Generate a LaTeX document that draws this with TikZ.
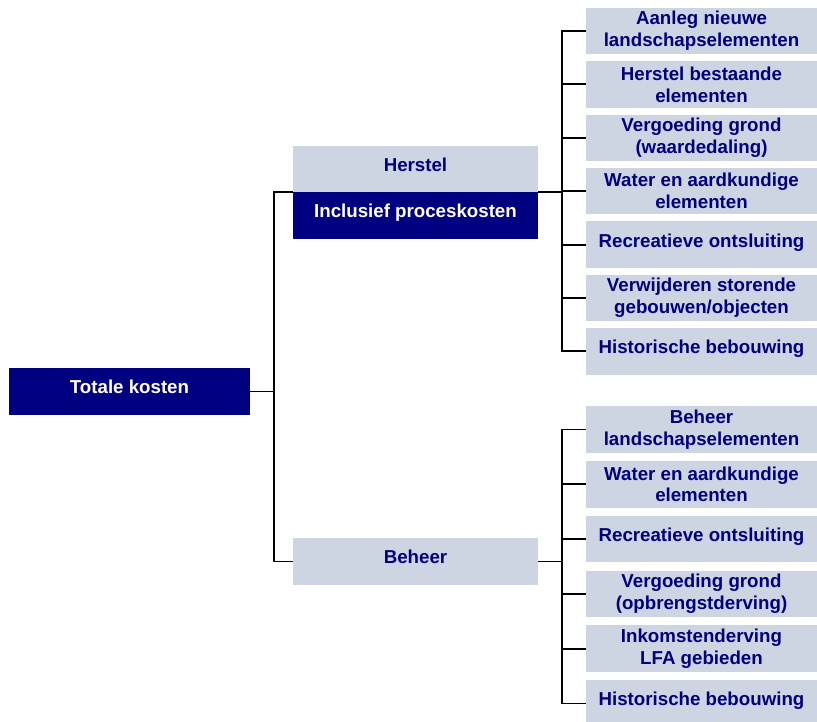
\documentclass[tikz,border=0pt]{standalone}
\usepackage{fontspec}
\setmainfont{Liberation Sans}
\usetikzlibrary{backgrounds}
\definecolor{donkerblauw}{RGB}{0,0,128}
\definecolor{lichtblauw}{RGB}{204,213,225}
\tikzset{
	doos/.style={inner sep=0pt, align=center, font=\bfseries\fontsize{13.3}{15.6}\selectfont},
	donker/.style={doos, fill=donkerblauw, text=white},
	licht/.style={doos, fill=lichtblauw, text=donkerblauw},
	eenregel/.style={text height=9.5pt, text depth=6pt},
	midden/.style={minimum width=6.125cm, minimum height=1.16cm},
	rechts/.style={licht, minimum width=5.775cm, minimum height=1.1625cm},
	lijn/.style={line width=1.4pt, black}
}

\begin{document}
\begin{tikzpicture}[x=0.025cm, y=-0.025cm]
	\useasboundingbox (0,0) rectangle (817,722);
	\node [donker, eenregel, minimum width=6.025cm, minimum height=1.175cm] (tot) at (129.5,391.5) {Totale kosten};
	\node [licht, eenregel, midden] (herstel) at (415.5,169) {Herstel};
	\node [donker, eenregel, midden] (incl) at (415.5,215.5) {Inclusief proceskosten};
	\node [licht, eenregel, midden] (beheer) at (415.5,561.5) {Beheer};

	% herstel
	\node [rechts] (a1) at (701.5,31) {Aanleg nieuwe\\landschapselementen};
	\node [rechts] (a2) at (701.5,84.4) {Herstel bestaande\\elementen};
	\node [rechts] (a3) at (701.5,137.8) {Vergoeding grond\\(waardedaling)};
	\node [rechts] (a4) at (701.5,191.2) {Water en aardkundige\\elementen};
	\node [rechts, eenregel] (a5) at (701.5,244.6) {Recreatieve ontsluiting};
	\node [rechts] (a6) at (701.5,298) {Verwijderen storende\\gebouwen/objecten};
	\node [rechts, eenregel] (a7) at (701.5,351.4) {Historische bebouwing};

	% beheer
	\node [rechts] (b1) at (701.5,429.5) {Beheer\\landschapselementen};
	\node [rechts] (b2) at (701.5,484.3) {Water en aardkundige\\elementen};
	\node [rechts, eenregel] (b3) at (701.5,539.1) {Recreatieve ontsluiting};
	\node [rechts] (b4) at (701.5,593.9) {Vergoeding grond\\(opbrengstderving)};
	\node [rechts] (b5) at (701.5,648.7) {Inkomstenderving\\LFA gebieden};
	\node [rechts, eenregel] (b6) at (701.5,703.5) {Historische bebouwing};

	\coordinate (j0) at (274,391.5);
	\coordinate (j1) at (562,192);
	\coordinate (j2) at (562,561.5);

	\begin{scope}[on background layer]
		\draw [lijn] (tot.east) -- (j0);
		\draw [lijn] (j0) |- (j1);
		\draw [lijn] (j0) |- (beheer.west);
		\draw [lijn] (beheer.east) -- (j2);
		\draw [lijn] (j1) |- (a1.west);
		\draw [lijn] (j1) |- (a2.west);
		\draw [lijn] (j1) |- (a3.west);
		\draw [lijn] (j1) |- (a4.west);
		\draw [lijn] (j1) |- (a5.west);
		\draw [lijn] (j1) |- (a6.west);
		\draw [lijn] (j1) |- (a7.west);
		\draw [lijn] (j2) |- (b1.west);
		\draw [lijn] (j2) |- (b2.west);
		\draw [lijn] (j2) |- (b3.west);
		\draw [lijn] (j2) |- (b4.west);
		\draw [lijn] (j2) |- (b5.west);
		\draw [lijn] (j2) |- (b6.west);
	\end{scope}
\end{tikzpicture}
\end{document}
